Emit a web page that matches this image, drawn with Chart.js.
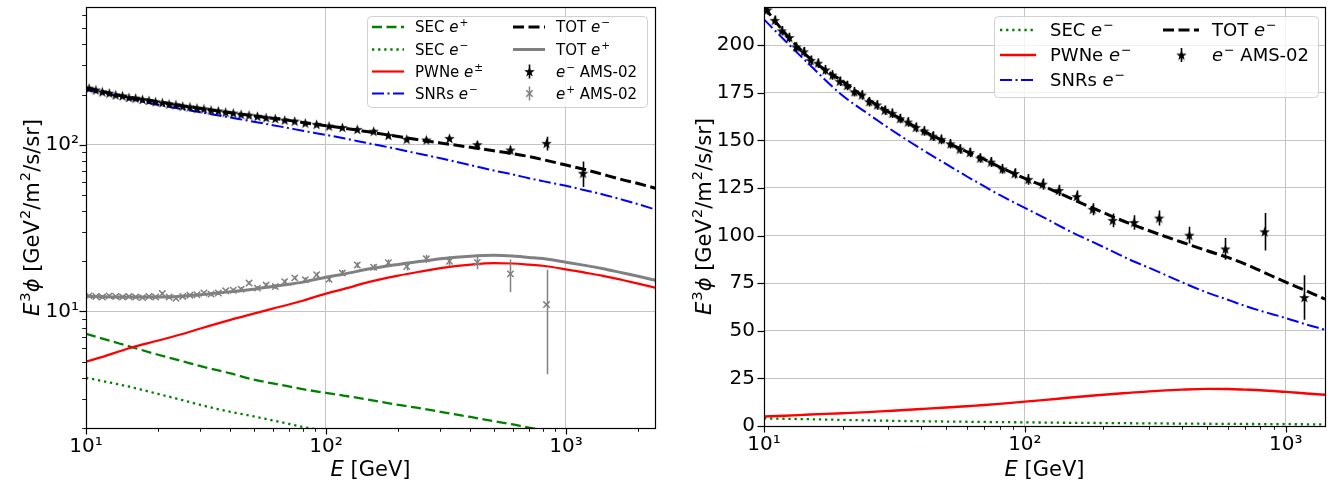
<!DOCTYPE html>
<html><head><meta charset="utf-8">
<script src="https://cdn.jsdelivr.net/npm/chart.js@4.4.1/dist/chart.umd.min.js"></script>
<style>
html,body{margin:0;padding:0;background:#fff;}
#wrap{position:relative;width:1331px;height:483px;background:#fff;}
#c1{position:absolute;left:0;top:0;}
#c2{position:absolute;left:665px;top:0;}
</style></head><body>
<div id="wrap"><canvas id="c1" width="665" height="483"></canvas><canvas id="c2" width="666" height="483"></canvas></div>
<script>
// ---------------- DATA ----------------
const energyModel = [10,12,15,20,25,30,40,50,60,70,80,100,120,150,200,250,300,400,500,600,700,800,1000,1200,1414,1700,2000,2400];
const secPositron = [7.35,6.8,6.2,5.5,5.05,4.7,4.25,3.9,3.7,3.55,3.42,3.25,3.12,2.96,2.75,2.62,2.5,2.33,2.2,2.1,2.01,1.95,1.86,1.77,1.7,1.62,1.55,1.48];
const secElectron = [4.0,3.8,3.55,3.2,2.95,2.75,2.5,2.35,2.22,2.12,2.03,1.92,1.8,1.68,1.55,1.45,1.38,1.27,1.18,1.12,1.07,1.02,0.95,0.9,0.85,0.8,0.75,0.7];
const pwne = [5.0,5.4,6.0,6.7,7.3,7.9,8.9,9.7,10.4,11.0,11.6,12.8,13.7,15.0,16.4,17.4,18.2,19.1,19.5,19.4,19.1,18.8,17.9,17.1,16.4,15.5,14.7,13.8];
const snrElectron = [213.5,202.5,189.5,173.5,164,156.5,145.5,137.5,131,125.8,121.3,114.5,109,102,94,87.6,83,75.5,70,66.3,63,60.5,56.7,53.3,50.5,47,44,40.5];
const totElectron = [220,206.5,193,181,171.5,165,155.5,149,144,140,136,130,125.5,119.5,112,106.5,102.5,96.5,92,88.5,85,81.5,75.5,71,66.6,62,58.5,54.5];
const totPositron = [12.35,12.25,12.2,12.2,12.35,12.6,13.15,13.6,14.1,14.55,15.0,16.05,16.8,17.95,19.15,20.0,20.7,21.45,21.7,21.5,21.1,20.75,19.75,18.9,18.1,17.1,16.25,15.3];

const energyEle = [10.3,11.0,11.7,12.5,13.3,14.2,15.1,16.1,17.2,18.3,19.5,20.8,22.2,23.7,25.3,27.1,29.0,31.0,33.2,35.6,38.2,41.1,44.3,47.8,51.8,56.3,61.5,67.3,74.1,82.0,91.4,103,117,135,158,182,217,262,327,427,587,830,1178];
const amsElectron = [218.5,213,207.5,204,199,196.5,192,190.5,187,184.3,181,178.8,175.5,173.8,170.3,168.6,165.8,164.2,161.4,159.6,156.8,154.9,152.2,150.5,148.2,145.4,143.6,140.7,138.6,135,132.6,129.5,127,123.7,120.5,113.8,108,106.9,109.2,100.2,93,102,67.5];
const amsElectronErr = [2.5,2.5,2.5,2.5,2.5,2.5,2.5,2.5,2.5,2.5,2.5,2.5,2.5,2.5,2.5,2.5,2.5,2.5,2.5,2.5,2.5,2.5,2.5,2.5,2.5,2.5,2.5,2.5,2.6,2.6,2.7,2.8,2.9,3.0,3.1,3.2,3.6,3.8,3.9,4.4,5.7,9.8,11.7];
const energyPos = [10.3,11.0,11.7,12.5,13.3,14.2,15.1,16.1,17.2,18.3,19.5,20.8,22.2,23.7,25.3,27.1,29.0,31.0,33.2,35.6,38.2,41.1,44.3,47.8,51.8,56.3,61.5,67.3,74.1,82.0,91.4,103,117,135,158,182,217,262,327,427,587,830];
const amsPositron = [12.4,12.3,12.2,12.4,12.3,12.2,12.3,12.2,12.1,12.3,12.2,12.8,12.2,12.0,12.3,12.5,12.6,12.9,12.7,12.9,13.3,13.4,13.6,14.8,13.8,14.4,14.1,15.1,15.9,15.5,16.6,15.6,17.0,19.0,18.4,19.6,18.6,20.7,20.0,19.7,16.8,11.0];
const amsPositronErr = [0.25,0.25,0.25,0.25,0.25,0.25,0.25,0.25,0.25,0.25,0.25,0.25,0.3,0.3,0.3,0.3,0.3,0.3,0.35,0.35,0.35,0.35,0.4,0.4,0.4,0.45,0.45,0.5,0.5,0.55,0.6,0.6,0.7,0.75,0.8,0.9,1.0,1.2,1.4,1.8,3.7,6.8];

// tick values / labels
const xTicksLeft = [10,20,30,40,50,60,70,80,90,100,200,300,400,500,600,700,800,900,1000,2000];
const xTicksRight = [10,20,30,40,50,60,70,80,90,100,200,300,400,500,600,700,800,900,1000];
const xMajor = [10,100,1000];
const xMajorLabels = ['10¹','10²','10³'];
const yTicksLeft = [2,3,4,5,6,7,8,9,10,20,30,40,50,60,70,80,90,100,200,300,400,500,600];
const yMajorLeft = [10,100];
const yMajorLeftLabels = ['10¹','10²'];
const yTicksRight = [0,25,50,75,100,125,150,175,200];

// text
const xTitle = [['E','i'],[' [GeV]','n']];
const yTitle = [['E','i'],['3','sup'],['ϕ','i'],[' [GeV','n'],['2','sup'],['/m','n'],['2','sup'],['/s/sr]','n']];
const lblSecPos = [['SEC ','n'],['e','i'],['+','sup']];
const lblSecEle = [['SEC ','n'],['e','i'],['−','sup']];
const lblPwnLeft = [['PWNe ','n'],['e','i'],['±','sup']];
const lblPwnRight = [['PWNe ','n'],['e','i'],['−','sup']];
const lblSnr = [['SNRs ','n'],['e','i'],['−','sup']];
const lblTotEle = [['TOT ','n'],['e','i'],['−','sup']];
const lblTotPos = [['TOT ','n'],['e','i'],['+','sup']];
const lblAmsEle = [['e','i'],['−','sup'],[' AMS-02','n']];
const lblAmsPos = [['e','i'],['+','sup'],[' AMS-02','n']];

// ---------------- HELPERS ----------------
const FAM = '"DejaVu Sans", sans-serif';
function fontFor(st, size){
  const s = st === 'sup' ? size*0.7 : size;
  return (st === 'i' ? 'italic ' : '') + s + 'px ' + FAM;
}
function richWidth(ctx, segs, size){
  let w = 0;
  for (const [t, st] of segs){ ctx.font = fontFor(st, size); w += ctx.measureText(t).width + (st==='sup'?1:0); }
  return w;
}
function drawRich(ctx, x, yc, segs, size, align){
  const w = richWidth(ctx, segs, size);
  let cx = align === 'center' ? x - w/2 : x;
  const base = yc + size*0.36;
  ctx.fillStyle = '#000';
  ctx.textAlign = 'left';
  ctx.textBaseline = 'alphabetic';
  for (const [t, st] of segs){
    ctx.font = fontFor(st, size);
    if (st === 'sup'){ cx += 1; ctx.fillText(t, cx, base - size*0.4); }
    else ctx.fillText(t, cx, base);
    cx += ctx.measureText(t).width;
  }
}
function makeStar(size, color){
  const c = document.createElement('canvas');
  c.width = size; c.height = size;
  const g = c.getContext('2d');
  g.fillStyle = color;
  g.beginPath();
  for (let k = 0; k < 10; k++){
    const r = (k % 2) ? size*0.2 : size*0.5;
    const a = -Math.PI/2 + k*Math.PI/5;
    g.lineTo(size/2 + r*Math.cos(a), size/2 + 0.5 + r*Math.sin(a));
  }
  g.closePath(); g.fill();
  return c;
}
const starMarker = makeStar(11, '#000');

function lineDs(label, ys, color, width, dash){
  return {type:'line', label, data: energyModel.map((e,i)=>({x:e, y:ys[i]})),
    borderColor: color, backgroundColor: color, borderWidth: width, borderDash: dash,
    pointRadius: 0, pointHoverRadius: 0, fill: false, cubicInterpolationMode: 'monotone', borderCapStyle: 'butt'};
}
function eleData(){
  return {type:'scatter', label:'e- AMS-02', data: energyEle.map((e,i)=>({x:e, y:amsElectron[i]})),
    pointStyle: starMarker, pointRadius: 5, backgroundColor:'#000', borderColor:'#000',
    errors: amsElectronErr, errColor:'#000', errWidth: 1.6};
}
function posData(){
  return {type:'scatter', label:'e+ AMS-02', data: energyPos.map((e,i)=>({x:e, y:amsPositron[i]})),
    pointStyle: 'crossRot', pointRadius: 4.5, pointBorderWidth: 1.5, borderWidth: 1.5,
    backgroundColor:'#808080', borderColor:'#808080', pointBorderColor:'#808080',
    errors: amsPositronErr, errColor:'#808080', errWidth: 1.5};
}

const GRID = '#c4c4c4';
const panelPlugin = {
  id: 'panel',
  beforeDatasetDraw(chart, args){
    const ds = chart.data.datasets[args.index];
    if (!ds.errors) return;
    const {ctx, chartArea:a, scales:{x, y}} = chart;
    ctx.save();
    ctx.beginPath(); ctx.rect(a.left, a.top, a.right-a.left, a.bottom-a.top); ctx.clip();
    ctx.strokeStyle = ds.errColor; ctx.lineWidth = ds.errWidth;
    ctx.beginPath();
    ds.data.forEach((p, i) => {
      const px = Math.round(x.getPixelForValue(p.x)) + 0.5;
      const lo = Math.max(p.y - ds.errors[i], 1e-3);
      ctx.moveTo(px, y.getPixelForValue(lo));
      ctx.lineTo(px, y.getPixelForValue(p.y + ds.errors[i]));
    });
    ctx.stroke();
    ctx.restore();
  },
  afterDraw(chart, args, o){
    const {ctx, chartArea:a, scales:{x, y}} = chart;
    ctx.save();
    // tick marks
    ctx.strokeStyle = '#000';
    for (const t of x.ticks){
      const major = o.xMajor.includes(t.value);
      const p = Math.round(x.getPixelForValue(t.value)) + 0.5;
      ctx.lineWidth = major ? 1.2 : 0.9;
      ctx.beginPath(); ctx.moveTo(p, a.bottom); ctx.lineTo(p, a.bottom + (major ? 6.5 : 3.8)); ctx.stroke();
    }
    for (const t of y.ticks){
      const major = o.yMajor === 'all' || o.yMajor.includes(t.value);
      const p = Math.round(y.getPixelForValue(t.value)) + 0.5;
      ctx.lineWidth = major ? 1.2 : 0.9;
      ctx.beginPath(); ctx.moveTo(a.left, p); ctx.lineTo(a.left - (major ? 6.5 : 3.8), p); ctx.stroke();
    }
    // frame
    ctx.lineWidth = 1.2; ctx.strokeStyle = '#000';
    ctx.strokeRect(Math.round(a.left)+0.5, Math.round(a.top)+0.5, Math.round(a.right-a.left), Math.round(a.bottom-a.top));
    // axis titles
    drawRich(ctx, (a.left+a.right)/2, o.xTitleY, xTitle, o.titleSize, 'center');
    ctx.save();
    ctx.translate(o.yTitleX, (a.top+a.bottom)/2);
    ctx.rotate(-Math.PI/2);
    drawRich(ctx, 0, 0, yTitle, o.titleSize, 'center');
    ctx.restore();
    // legend
    const L = o.legend;
    ctx.fillStyle = 'rgba(255,255,255,0.8)';
    ctx.strokeStyle = '#d0d0d0'; ctx.lineWidth = 1;
    ctx.beginPath();
    if (ctx.roundRect) ctx.roundRect(L.box[0]+0.5, L.box[1]+0.5, L.box[2], L.box[3], 4); else ctx.rect(L.box[0]+0.5, L.box[1]+0.5, L.box[2], L.box[3]);
    ctx.fill(); ctx.stroke();
    L.items.forEach(it => {
      const ds = chart.data.datasets[it.ds];
      const hx = L.handleX[it.col], ry = L.rowY[it.row];
      if (ds.type === 'line'){
        ctx.save();
        ctx.strokeStyle = ds.borderColor; ctx.lineWidth = ds.borderWidth;
        ctx.setLineDash(ds.borderDash || []);
        ctx.beginPath(); ctx.moveTo(hx, ry); ctx.lineTo(hx + L.handleLen, ry); ctx.stroke();
        ctx.restore();
      } else {
        const cx = hx + L.handleLen/2;
        ctx.save();
        ctx.strokeStyle = ds.errColor; ctx.lineWidth = ds.errWidth;
        ctx.beginPath(); ctx.moveTo(Math.round(cx)+0.5, ry - 7); ctx.lineTo(Math.round(cx)+0.5, ry + 7); ctx.stroke();
        ctx.fillStyle = ds.backgroundColor; ctx.strokeStyle = ds.borderColor; ctx.lineWidth = ds.pointBorderWidth || 1;
        Chart.helpers.drawPoint(ctx, {pointStyle: ds.pointStyle, radius: ds.pointRadius, borderWidth: ds.pointBorderWidth || 0, rotation: 0}, Math.round(cx)+0.5, ry);
        ctx.restore();
      }
      drawRich(ctx, L.textX[it.col], ry, it.text, L.fontSize, 'left');
    });
    ctx.restore();
  }
};

function logX(min, max, ticks){
  return {type:'logarithmic', min, max,
    afterBuildTicks: s => { s.ticks = ticks.map(v => ({value: v})); },
    ticks:{autoSkip:false, maxRotation:0, minRotation:0, color:'#000', padding:1,
      font:{family:'DejaVu Sans', size:20},
      callback: v => { const k = xMajor.indexOf(v); return k >= 0 ? xMajorLabels[k] : ''; }},
    grid:{color: c => (c.tick && xMajor.includes(c.tick.value)) ? GRID : 'rgba(0,0,0,0)', lineWidth:1,
      drawTicks:true, tickLength:6, tickColor:'rgba(0,0,0,0)'},
    border:{display:false}};
}

// ---------------- LEFT PANEL ----------------
const xL = logX(10, 2350, xTicksLeft);
xL.afterFit = s => { s.height = 55; s.paddingLeft = 0; s.paddingRight = 0; s.paddingTop = 0; s.paddingBottom = 0; };
new Chart(document.getElementById('c1'), {
  type: 'scatter',
  data: {datasets: [
    eleData(),
    posData(),
    lineDs('TOT e-', totElectron, '#000000', 3, [11,4.5]),
    lineDs('TOT e+', totPositron, '#808080', 3, []),
    lineDs('SNRs e-', snrElectron, '#0000ff', 2, [12,3.5,2,3.5]),
    lineDs('PWNe e±', pwne, '#ff0000', 2.2, []),
    lineDs('SEC e-', secElectron, '#008000', 2.3, [2.3,3.8]),
    lineDs('SEC e+', secPositron, '#008000', 2.3, [10,4.5])
  ]},
  options: {
    responsive:false, animation:false, events:[],
    layout:{padding:{left:0, right:10, top:7, bottom:0}},
    plugins:{legend:{display:false}, tooltip:{enabled:false},
      panel:{xMajor: xMajor, yMajor: yMajorLeft, titleSize: 21, xTitleY: 468, yTitleX: 31,
        legend:{box:[367,16,280,91], handleX:[372,513], handleLen:32, textX:[415,556], rowY:[27,49.5,71.5,93.5], fontSize:15,
          items:[
            {ds:7, col:0, row:0, text:lblSecPos},
            {ds:6, col:0, row:1, text:lblSecEle},
            {ds:5, col:0, row:2, text:lblPwnLeft},
            {ds:4, col:0, row:3, text:lblSnr},
            {ds:2, col:1, row:0, text:lblTotEle},
            {ds:3, col:1, row:1, text:lblTotPos},
            {ds:0, col:1, row:2, text:lblAmsEle},
            {ds:1, col:1, row:3, text:lblAmsPos}
          ]}}},
    scales:{
      x: xL,
      y: {type:'logarithmic', min:2, max:670,
        afterBuildTicks: s => { s.ticks = yTicksLeft.map(v => ({value:v})); },
        afterFit: s => { s.width = 86; s.paddingTop = 0; s.paddingBottom = 0; },
        ticks:{autoSkip:false, color:'#000', padding:1, font:{family:'DejaVu Sans', size:20},
          callback: v => { const k = yMajorLeft.indexOf(v); return k >= 0 ? yMajorLeftLabels[k] : ''; }},
        grid:{color: c => (c.tick && yMajorLeft.includes(c.tick.value)) ? GRID : 'rgba(0,0,0,0)', lineWidth:1,
          drawTicks:true, tickLength:6, tickColor:'rgba(0,0,0,0)'},
        border:{display:false}}
    }
  },
  plugins:[panelPlugin]
});

// ---------------- RIGHT PANEL ----------------
const xR = logX(10, 1414, xTicksRight);
xR.afterFit = s => { s.height = 57; s.paddingLeft = 0; s.paddingRight = 0; s.paddingTop = 0; s.paddingBottom = 0; };
new Chart(document.getElementById('c2'), {
  type: 'scatter',
  data: {datasets: [
    eleData(),
    lineDs('TOT e-', totElectron, '#000000', 3, [11,4.5]),
    lineDs('SNRs e-', snrElectron, '#0000ff', 2, [12,3.5,2,3.5]),
    lineDs('PWNe e-', pwne, '#ff0000', 2.4, []),
    lineDs('SEC e-', secElectron, '#008000', 2.3, [2.3,3.8])
  ]},
  options: {
    responsive:false, animation:false, events:[],
    layout:{padding:{left:0, right:4, top:7, bottom:0}},
    plugins:{legend:{display:false}, tooltip:{enabled:false},
      panel:{xMajor: xMajor, yMajor: 'all', titleSize: 21, xTitleY: 468, yTitleX: 38,
        legend:{box:[329,16,324,81], handleX:[335,498], handleLen:36, textX:[385,547], rowY:[30,55,80], fontSize:18,
          items:[
            {ds:4, col:0, row:0, text:lblSecEle},
            {ds:3, col:0, row:1, text:lblPwnRight},
            {ds:2, col:0, row:2, text:lblSnr},
            {ds:1, col:1, row:0, text:lblTotEle},
            {ds:0, col:1, row:1, text:lblAmsEle}
          ]}}},
    scales:{
      x: xR,
      y: {type:'linear', min:0, max:220,
        afterBuildTicks: s => { s.ticks = yTicksRight.map(v => ({value:v})); },
        afterFit: s => { s.width = 99; s.paddingTop = 0; s.paddingBottom = 0; },
        ticks:{autoSkip:false, color:'#000', padding:3, font:{family:'DejaVu Sans', size:20},
          callback: v => String(v)},
        grid:{color: GRID, lineWidth:1, drawTicks:true, tickLength:6, tickColor:'rgba(0,0,0,0)'},
        border:{display:false}}
    }
  },
  plugins:[panelPlugin]
});
</script>
</body></html>
